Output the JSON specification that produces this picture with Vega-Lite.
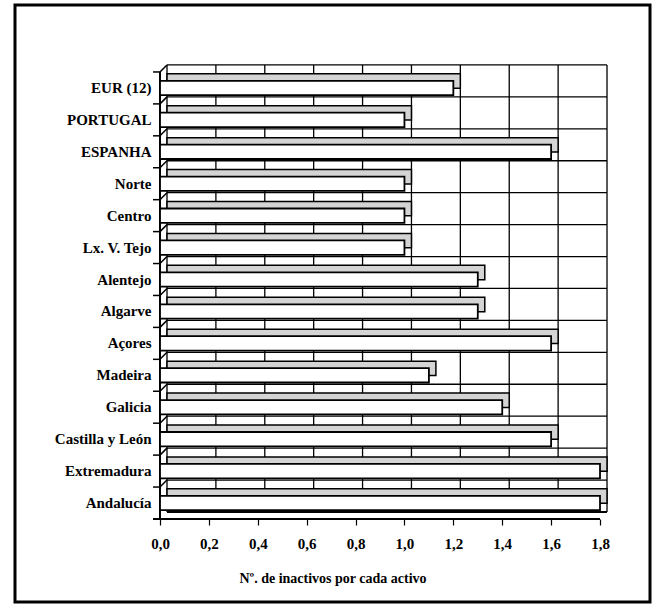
{
  "$schema": "https://vega.github.io/schema/vega-lite/v6.json",
  "width": 635,
  "height": 597,
  "autosize": {"type": "none"},
  "padding": {"left": 15, "top": 5, "right": 10, "bottom": 5},
  "background": "white",
  "config": {
    "view": {"stroke": "black", "strokeWidth": 3},
    "font": "Liberation Serif"
  },
  "datasets": {
    "bars": [
      {"region": "EUR (12)", "value": 1.2},
      {"region": "PORTUGAL", "value": 1.0},
      {"region": "ESPANHA", "value": 1.6},
      {"region": "Norte", "value": 1.0},
      {"region": "Centro", "value": 1.0},
      {"region": "Lx. V. Tejo", "value": 1.0},
      {"region": "Alentejo", "value": 1.3},
      {"region": "Algarve", "value": 1.3},
      {"region": "Açores", "value": 1.6},
      {"region": "Madeira", "value": 1.1},
      {"region": "Galicia", "value": 1.4},
      {"region": "Castilla y León", "value": 1.6},
      {"region": "Extremadura", "value": 1.8},
      {"region": "Andalucía", "value": 1.8}
    ],
    "ticks": [
      {"t": 0.0}, {"t": 0.2}, {"t": 0.4}, {"t": 0.6}, {"t": 0.8},
      {"t": 1.0}, {"t": 1.2}, {"t": 1.4}, {"t": 1.6}, {"t": 1.8}
    ]
  },
  "encoding": {
    "y": {
      "field": "region",
      "type": "nominal",
      "sort": null,
      "scale": {
        "domain": ["EUR (12)", "PORTUGAL", "ESPANHA", "Norte", "Centro", "Lx. V. Tejo", "Alentejo", "Algarve", "Açores", "Madeira", "Galicia", "Castilla y León", "Extremadura", "Andalucía"],
        "range": [67, 514],
        "paddingInner": 0,
        "paddingOuter": 0
      },
      "axis": {
        "orient": "left",
        "offset": -145,
        "domain": false,
        "grid": false,
        "ticks": false,
        "labelFont": "Liberation Serif",
        "labelFontSize": 15,
        "labelFontWeight": "bold",
        "labelColor": "black",
        "labelPadding": 9,
        "title": null
      }
    }
  },
  "layer": [
    {
      "data": {"name": "bars"},
      "mark": {"type": "rule", "color": "black", "strokeWidth": 1.3, "yOffset": -23, "xOffset": 7, "x2Offset": 7},
      "encoding": {
        "y": {"field": "region", "type": "nominal", "sort": null},
        "x": {"datum": 0, "type": "quantitative"},
        "x2": {"datum": 1.8}
      }
    },
    {
      "data": {"name": "bars"},
      "mark": {"type": "rule", "color": "black", "strokeWidth": 1.5, "yOffset": -16},
      "encoding": {
        "y": {"field": "region", "type": "nominal", "sort": null},
        "x": {"datum": -0.0286, "type": "quantitative"},
        "x2": {"datum": 0}
      }
    },
    {
      "data": {"name": "bars"},
      "mark": {"type": "rule", "color": "black", "strokeWidth": 1.5, "yOffset": -16, "y2Offset": -23},
      "encoding": {
        "y": {"field": "region", "type": "nominal", "sort": null},
        "y2": {"field": "region"},
        "x": {"datum": 0, "type": "quantitative"},
        "x2": {"datum": 0.0286}
      }
    },
    {
      "data": {"name": "ticks"},
      "mark": {"type": "rule", "color": "black", "strokeWidth": 1.5, "yOffset": 16},
      "encoding": {
        "y": {"datum": "Andalucía", "type": "nominal"},
        "x": {"datum": -0.0286, "type": "quantitative"},
        "x2": {"datum": 0}
      }
    },
    {
      "data": {"name": "ticks"},
      "mark": {"type": "rule", "color": "black", "strokeWidth": 1.3, "yOffset": 9, "xOffset": 7, "x2Offset": 7},
      "encoding": {
        "y": {"datum": "Andalucía", "type": "nominal"},
        "x": {"datum": 0, "type": "quantitative"},
        "x2": {"datum": 1.8}
      }
    },
    {
      "data": {"name": "ticks"},
      "mark": {"type": "rule", "color": "black", "strokeWidth": 1.3, "xOffset": 7, "yOffset": -23, "y2Offset": 9},
      "encoding": {
        "x": {"field": "t", "type": "quantitative"},
        "y": {"datum": "EUR (12)", "type": "nominal"},
        "y2": {"datum": "Andalucía"}
      }
    },
    {
      "data": {"name": "ticks"},
      "mark": {"type": "rule", "color": "black", "strokeWidth": 1.5, "yOffset": -16, "y2Offset": 16},
      "encoding": {
        "x": {"datum": 0, "type": "quantitative"},
        "y": {"datum": "EUR (12)", "type": "nominal"},
        "y2": {"datum": "Andalucía"}
      }
    },
    {
      "data": {"name": "ticks"},
      "mark": {"type": "rule", "color": "black", "strokeWidth": 1.6, "yOffset": 16},
      "encoding": {
        "y": {"datum": "Andalucía", "type": "nominal"},
        "x": {"datum": 0, "type": "quantitative"},
        "x2": {"datum": 1.8}
      }
    },
    {
      "data": {"name": "bars"},
      "mark": {"type": "bar", "height": {"band": 0.45}, "fill": "#d4d4d4", "stroke": "black", "strokeWidth": 1.5, "xOffset": 7, "x2Offset": 7, "yOffset": -7},
      "encoding": {
        "x": {"field": "value", "type": "quantitative"}
      }
    },
    {
      "data": {"name": "bars"},
      "mark": {"type": "bar", "height": {"band": 0.45}, "fill": "white", "stroke": "black", "strokeWidth": 1.8},
      "encoding": {
        "x": {
          "field": "value",
          "type": "quantitative",
          "scale": {"domain": [-0.5932, 2.0045], "nice": false, "zero": false},
          "axis": {
            "orient": "bottom",
            "offset": -83,
            "domain": false,
            "grid": false,
            "values": [0, 0.2, 0.4, 0.6, 0.8, 1.0, 1.2, 1.4, 1.6, 1.8],
            "labelExpr": "replace(format(datum.value, '.1f'), '.', ',')",
            "tickSize": 6,
            "tickColor": "black",
            "tickWidth": 1.2,
            "labelFont": "Liberation Serif",
            "labelFontSize": 15,
            "labelFontWeight": "bold",
            "labelColor": "black",
            "labelPadding": 11,
            "title": "Nº. de inactivos por cada activo",
            "titleFont": "Liberation Serif",
            "titleFontSize": 14,
            "titleFontWeight": "bold",
            "titleColor": "black",
            "titlePadding": 20
          }
        }
      }
    }
  ]
}
